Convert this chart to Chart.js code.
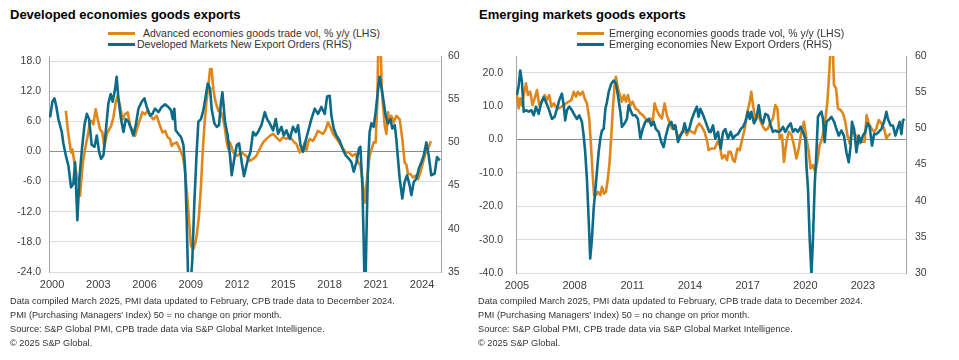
<!DOCTYPE html>
<html>
<head>
<meta charset="utf-8">
<script src="https://cdn.jsdelivr.net/npm/chart.js@4.4.1/dist/chart.umd.min.js"></script>
<style>
  html, body { margin: 0; padding: 0; background: #fff; }
  body { width: 959px; height: 360px; position: relative; overflow: hidden;
         font-family: "Liberation Sans", Arial, sans-serif; color: #333; }
  .title { position: absolute; font-weight: bold; font-size: 13px; color: #000; line-height: 16px; white-space: nowrap; }
  .leg { position: absolute; font-size: 10.5px; color: #333; white-space: nowrap; }
  .leg .row { position: absolute; left: 0; height: 11px; line-height: 11px; display: flex; align-items: center; }
  .leg .sw { display: inline-block; width: 27px; height: 3px; }
  .note { position: absolute; font-size: 9.2px; line-height: 14px; color: #333; white-space: nowrap; }
  .cw { position: absolute; }
</style>
</head>
<body>
<div class="title" style="left:10px; top:7px;">Developed economies goods exports</div>
<div class="leg" style="left:108px; top:28px;">
  <div class="row" style="top:0;"><span class="sw" style="background:#E0861B;margin-right:8px;"></span>Advanced economies goods trade vol, % y/y (LHS)</div>
  <div class="row" style="top:11px;"><span class="sw" style="background:#0B6B88;margin-right:2px;"></span>Developed Markets New Export Orders (RHS)</div>
</div>
<div class="cw" style="left:0; top:50px; width:480px; height:245px;"><canvas id="c1" width="480" height="245"></canvas></div>
<div class="note" style="left:10px; top:294px;">Data compiled March 2025, PMI data updated to February, CPB trade data to December 2024.<br>PMI (Purchasing Managers' Index) 50 = no change on prior month.<br>Source: S&amp;P Global PMI, CPB trade data via S&amp;P Global Market Intelligence.<br>© 2025 S&amp;P Global.</div>

<div class="title" style="left:479px; top:7px;">Emerging markets goods exports</div>
<div class="leg" style="left:577px; top:28px;">
  <div class="row" style="top:0;"><span class="sw" style="background:#E0861B;margin-right:5px;"></span>Emerging economies goods trade vol, % y/y (LHS)</div>
  <div class="row" style="top:11px;"><span class="sw" style="background:#0B6B88;margin-right:5px;"></span>Emerging economies New Export Orders (RHS)</div>
</div>
<div class="cw" style="left:470px; top:50px; width:489px; height:245px;"><canvas id="c2" width="489" height="245"></canvas></div>
<div class="note" style="left:478px; top:294px;">Data compiled March 2025, PMI data updated to February, CPB trade data to December 2024.<br>PMI (Purchasing Managers' Index) 50 = no change on prior month.<br>Source: S&amp;P Global PMI, CPB trade data via S&amp;P Global Market Intelligence.<br>© 2025 S&amp;P Global.</div>

<script>
// ---------- DATA (decimal years) ----------
const dmYearTicks = [2000, 2003, 2006, 2009, 2012, 2015, 2018, 2021, 2024];
const emYearTicks = [2005, 2008, 2011, 2014, 2017, 2020, 2023];
const dmLhsTicks = [-24, -18, -12, -6, 0, 6, 12, 18];
const emLhsTicks = [-40, -30, -20, -10, 0, 10, 20];

// Developed: Advanced economies goods trade vol, % y/y (LHS)
const dmTradeDates = [2000.89,2001.02,2001.10,2001.23,2001.32,2001.45,2001.60,2001.71,2001.82,2001.92,2002.03,2002.18,2002.31,2002.46,2002.57,2002.68,2002.83,2002.96,2003.11,2003.26,2003.39,2003.55,2003.70,2003.83,2003.98,2004.13,2004.26,2004.41,2004.56,2004.73,2004.91,2005.06,2005.21,2005.38,2005.56,2005.71,2005.86,2006.03,2006.20,2006.38,2006.57,2006.79,2007.00,2007.16,2007.33,2007.50,2007.65,2007.76,2007.87,2008.08,2008.24,2008.37,2008.47,2008.58,2008.67,2008.80,2008.91,2009.01,2009.16,2009.27,2009.38,2009.53,2009.66,2009.77,2009.88,2010.01,2010.14,2010.25,2010.35,2010.46,2010.57,2010.68,2010.79,2010.96,2011.11,2011.22,2011.33,2011.44,2011.54,2011.76,2011.98,2012.30,2012.60,2012.82,2013.04,2013.25,2013.47,2013.69,2013.90,2014.12,2014.34,2014.55,2014.77,2014.98,2015.20,2015.42,2015.63,2015.85,2016.07,2016.24,2016.39,2016.50,2016.60,2016.71,2016.93,2017.10,2017.25,2017.40,2017.58,2017.75,2017.90,2018.05,2018.23,2018.40,2018.62,2018.83,2019.05,2019.26,2019.48,2019.70,2019.85,2020.00,2020.13,2020.28,2020.39,2020.50,2020.60,2020.73,2020.86,2020.99,2021.10,2021.17,2021.30,2021.38,2021.47,2021.58,2021.69,2021.79,2021.90,2022.01,2022.16,2022.33,2022.55,2022.72,2022.87,2022.98,2023.09,2023.24,2023.42,2023.59,2023.74,2023.89,2024.06,2024.24,2024.39,2024.54,2024.60];
const dmTradeVals = [8.1,4.4,2.5,-0.2,0.4,-2.2,-4.8,-5.8,-8.8,-4.8,-1.5,1.1,3.1,5.8,6.1,5.4,8.4,6.4,4.4,3.8,0.8,3.5,4.4,5.1,6.8,9.8,11.1,9.1,6.4,7.4,7.8,5.1,4.4,3.1,5.1,6.4,7.8,7.4,8.1,7.1,6.4,7.1,5.1,3.8,4.1,2.8,2.5,1.1,1.5,1.8,0.8,-0.2,-0.9,-2.8,-5.5,-10.2,-14.8,-18.8,-19.5,-18.5,-16.8,-12.8,-6.8,-0.2,5.1,9.8,13.1,16.4,16.4,12.4,10.4,9.1,8.1,7.8,6.4,4.4,1.8,0.5,1.8,-0.2,-0.9,-0.2,-0.9,-1.9,-1.5,-0.9,0.5,1.8,2.5,3.1,3.5,2.8,2.1,2.8,2.5,3.1,2.1,1.5,-0.2,0.5,1.8,0.1,1.8,2.5,2.1,3.1,4.1,3.8,3.5,4.4,5.8,4.8,3.5,2.8,1.8,0.8,-0.2,-0.2,-0.9,-0.5,-2.2,-2.8,-5.5,-10.2,-6.8,-3.5,-0.9,0.5,1.8,1.8,9.8,23,23,13.1,9.1,5.1,3.5,7.8,5.8,7.1,5.8,7.1,6.4,2.5,-2.2,-2.6,-4.5,-4.5,-5.2,-4.8,-5.5,-4.2,-2.2,-0.2,0.5,1.8,2.0];

// Developed: Developed Markets New Export Orders PMI (RHS)
const dmPmiDates = [1999.87,2000.02,2000.15,2000.26,2000.41,2000.63,2000.73,2000.89,2001.06,2001.23,2001.38,2001.49,2001.64,2001.77,2001.92,2002.10,2002.25,2002.40,2002.57,2002.75,2002.90,2003.05,2003.18,2003.33,2003.50,2003.65,2003.80,2003.93,2004.09,2004.19,2004.30,2004.47,2004.63,2004.78,2004.95,2005.12,2005.27,2005.43,2005.60,2005.81,2005.99,2006.14,2006.36,2006.51,2006.68,2006.90,2007.11,2007.33,2007.54,2007.72,2007.83,2007.93,2008.02,2008.19,2008.37,2008.52,2008.63,2008.73,2008.84,2008.97,2009.10,2009.23,2009.38,2009.49,2009.66,2009.81,2009.97,2010.10,2010.25,2010.35,2010.53,2010.68,2010.83,2010.96,2011.05,2011.22,2011.39,2011.54,2011.65,2011.82,2011.98,2012.13,2012.30,2012.45,2012.71,2012.87,2013.04,2013.21,2013.36,2013.58,2013.80,2013.95,2014.12,2014.34,2014.51,2014.66,2014.88,2015.03,2015.20,2015.42,2015.63,2015.81,2015.96,2016.11,2016.28,2016.45,2016.60,2016.82,2017.04,2017.25,2017.47,2017.69,2017.84,2018.01,2018.12,2018.27,2018.44,2018.66,2018.83,2019.05,2019.26,2019.42,2019.57,2019.74,2019.91,2020.00,2020.13,2020.21,2020.30,2020.39,2020.50,2020.60,2020.71,2020.86,2020.99,2021.14,2021.25,2021.38,2021.51,2021.64,2021.79,2021.95,2022.07,2022.23,2022.33,2022.44,2022.55,2022.72,2022.87,2023.03,2023.20,2023.31,2023.46,2023.63,2023.80,2023.96,2024.11,2024.28,2024.43,2024.60,2024.82,2024.97,2025.15];
const dmPmiVals = [52.9,54.7,55.1,54.3,52.7,51.2,49.9,48.5,47.3,44.8,45.2,47.7,41.0,45.8,48.9,52.0,53.3,52.7,49.7,49.5,50.8,48.9,48.1,48.5,51.6,54.5,55.6,54.7,56.2,57.6,55.1,52.7,51.2,52.7,52.4,51.6,50.8,52.0,53.9,54.7,55.1,54.1,53.1,53.3,53.9,53.5,54.1,54.4,54.1,53.7,52.7,53.9,51.4,51.0,50.6,49.7,47.0,41.2,33.0,33.0,36.5,43.1,48.9,52.4,52.7,53.7,55.4,56.8,56.2,53.9,52.2,51.8,52.0,54.7,55.8,52.4,50.8,48.5,46.2,48.1,49.7,49.9,47.7,46.1,48.1,48.9,51.2,50.8,51.2,52.0,53.5,52.7,52.2,51.4,52.7,51.0,51.8,50.8,51.4,50.4,51.8,51.2,52.0,49.7,48.9,50.2,51.2,52.7,53.9,53.3,54.1,53.3,55.3,55.4,53.1,51.6,50.8,50.2,49.3,48.5,48.1,47.7,46.6,47.7,49.3,49.5,45.0,38.9,31.0,38.9,47.7,51.2,52.2,51.8,53.5,56.0,57.6,56.2,54.7,53.1,52.2,52.7,51.6,52.0,50.4,48.1,45.8,43.5,45.4,46.2,45.0,43.9,45.4,45.8,47.0,47.7,48.5,50.0,48.5,46.2,46.4,48.3,47.9];

// Emerging: Emerging economies goods trade vol, % y/y (LHS)
const emTradeDates = [2005.00,2005.09,2005.17,2005.26,2005.35,2005.47,2005.57,2005.69,2005.81,2005.92,2006.04,2006.16,2006.30,2006.44,2006.56,2006.68,2006.79,2006.91,2007.03,2007.17,2007.31,2007.43,2007.55,2007.69,2007.83,2007.95,2008.07,2008.17,2008.29,2008.42,2008.52,2008.64,2008.76,2008.85,2008.94,2009.01,2009.11,2009.21,2009.34,2009.42,2009.53,2009.63,2009.73,2009.82,2009.91,2009.99,2010.08,2010.15,2010.25,2010.36,2010.46,2010.57,2010.67,2010.77,2010.90,2011.02,2011.16,2011.29,2011.42,2011.54,2011.68,2011.81,2011.94,2012.06,2012.16,2012.28,2012.40,2012.54,2012.68,2012.80,2012.92,2013.06,2013.20,2013.32,2013.44,2013.58,2013.72,2013.84,2013.96,2014.10,2014.24,2014.36,2014.49,2014.62,2014.76,2014.88,2014.97,2015.11,2015.29,2015.43,2015.55,2015.67,2015.81,2015.93,2016.01,2016.12,2016.24,2016.33,2016.47,2016.59,2016.71,2016.85,2016.99,2017.11,2017.19,2017.28,2017.40,2017.54,2017.68,2017.80,2017.92,2018.06,2018.20,2018.32,2018.44,2018.55,2018.67,2018.79,2018.89,2019.02,2019.14,2019.28,2019.41,2019.54,2019.66,2019.80,2019.93,2020.06,2020.18,2020.28,2020.40,2020.52,2020.63,2020.75,2020.87,2021.01,2021.15,2021.25,2021.32,2021.43,2021.49,2021.60,2021.70,2021.84,2021.96,2022.08,2022.19,2022.31,2022.43,2022.57,2022.71,2022.83,2022.95,2023.09,2023.19,2023.30,2023.44,2023.58,2023.70,2023.82,2023.96,2024.10,2024.22,2024.34,2024.44];
const emTradeVals = [13.3,9.3,12.3,10.3,13.3,16.8,13.3,14.3,10.3,12.3,14.8,10.3,11.3,13.3,11.8,13.3,9.8,10.8,9.8,9.3,9.8,10.3,10.8,11.3,11.8,14.3,12.8,14.3,13.3,14.3,12.3,10.8,6.3,-1.7,-10.7,-16.7,-16.7,-15.7,-16.7,-14.2,-16.2,-15.7,-11.7,-6.7,1.3,9.3,16.3,18.8,15.3,13.3,11.3,13.3,11.3,13.3,10.3,11.3,9.3,8.8,7.8,7.3,6.3,5.3,6.3,5.3,10.8,8.8,7.3,6.3,10.8,7.3,5.3,3.3,4.3,1.8,0.3,2.3,2.8,1.3,2.8,2.3,1.8,3.8,4.8,3.8,2.3,-0.2,-3.2,-2.7,-2.7,-0.7,-1.7,-5.7,-4.7,-6.2,-3.7,-3.7,-6.2,-6.7,-2.7,-3.2,-0.2,3.3,8.3,11.3,14.3,10.3,6.3,7.8,5.3,3.8,2.8,3.3,5.3,6.3,10.3,9.3,0.3,1.3,-6.7,-0.7,2.3,1.3,-1.7,-5.7,-2.7,2.3,5.3,0.3,-3.7,-8.7,-7.7,-9.7,-6.7,-1.7,0.3,4.3,11.3,20.3,28,28,16.3,15.3,9.3,8.8,7.8,5.3,1.3,-1.2,2.3,1.8,0.3,-1.2,-0.7,-0.7,7.3,4.8,3.3,2.3,3.3,5.8,4.8,3.3,0.3,1.3,1.8];

// Emerging: Emerging economies New Export Orders PMI (RHS)
const emPmiDates = [2005.00,2005.09,2005.17,2005.26,2005.35,2005.47,2005.61,2005.75,2005.87,2005.99,2006.13,2006.27,2006.39,2006.51,2006.65,2006.82,2006.96,2007.08,2007.20,2007.34,2007.43,2007.51,2007.60,2007.72,2007.86,2008.00,2008.12,2008.24,2008.38,2008.47,2008.55,2008.64,2008.73,2008.81,2008.90,2008.99,2009.07,2009.16,2009.25,2009.34,2009.42,2009.51,2009.60,2009.68,2009.77,2009.91,2010.03,2010.15,2010.25,2010.38,2010.46,2010.60,2010.72,2010.81,2010.91,2011.02,2011.16,2011.29,2011.42,2011.54,2011.68,2011.85,2011.99,2012.11,2012.23,2012.37,2012.51,2012.63,2012.75,2012.89,2013.03,2013.15,2013.24,2013.38,2013.50,2013.62,2013.72,2013.84,2013.96,2014.10,2014.24,2014.36,2014.45,2014.54,2014.66,2014.76,2014.88,2015.01,2015.08,2015.20,2015.32,2015.46,2015.60,2015.72,2015.84,2015.98,2016.12,2016.24,2016.36,2016.50,2016.64,2016.76,2016.88,2017.02,2017.11,2017.19,2017.33,2017.45,2017.58,2017.68,2017.80,2017.92,2018.06,2018.20,2018.32,2018.44,2018.58,2018.72,2018.84,2018.96,2019.10,2019.24,2019.36,2019.48,2019.62,2019.76,2019.88,2020.00,2020.07,2020.14,2020.23,2020.32,2020.40,2020.49,2020.58,2020.66,2020.75,2020.84,2020.92,2021.01,2021.10,2021.18,2021.27,2021.36,2021.50,2021.62,2021.74,2021.88,2022.01,2022.14,2022.26,2022.36,2022.43,2022.54,2022.66,2022.78,2022.88,2023.00,2023.12,2023.23,2023.35,2023.47,2023.58,2023.70,2023.82,2023.96,2024.10,2024.22,2024.30,2024.44,2024.56,2024.69,2024.79,2024.91,2025.00,2025.08,2025.17];
const emPmiVals = [54.6,55.9,58.0,56.4,52.3,52.5,52.3,52.5,51.8,53.0,52.0,53.6,54.3,53.6,52.7,51.3,51.6,52.7,53.9,54.8,53.2,51.1,52.5,53.0,52.5,51.8,51.3,51.8,50.9,49.0,46.7,43.0,37.5,32.0,34.7,38.9,41.2,44.0,46.7,48.6,49.7,49.9,52.7,53.6,55.0,56.2,56.6,56.2,54.6,52.3,50.2,50.7,51.3,53.2,52.5,51.8,51.8,51.3,48.6,49.9,50.9,51.3,50.4,50.9,49.9,49.5,48.1,47.4,49.0,50.4,50.9,49.9,50.4,48.1,49.0,49.5,50.7,49.5,49.9,51.3,52.3,53.0,51.6,52.7,52.0,51.3,50.4,49.5,49.5,50.4,48.6,49.5,47.2,49.5,49.9,48.6,49.5,48.6,49.0,49.2,49.9,50.2,50.9,52.3,51.3,52.3,50.7,51.3,53.2,51.3,50.7,52.0,51.8,50.4,49.5,49.7,49.5,49.7,50.2,49.5,50.2,50.7,49.5,49.9,49.5,50.2,49.5,48.6,44.4,41.7,34.7,29.8,34.7,42.2,46.7,51.6,52.0,52.3,51.3,48.1,50.9,51.1,51.3,51.6,50.9,49.9,49.0,49.7,49.0,46.7,45.3,47.6,50.9,49.9,46.7,49.0,48.1,49.0,49.5,50.7,50.2,47.6,49.2,49.2,49.5,49.9,50.9,52.3,51.3,50.4,50.4,49.0,49.9,50.9,49.2,51.1,51.3];

// ---------- CHARTS ----------
const ORANGE = '#E0861B';
const BLUE = '#0B6B88';
const TICK_COLOR = '#404040';
Chart.defaults.font.family = '"Liberation Sans", Arial, sans-serif';
Chart.defaults.color = TICK_COLOR;

function pts(dates, vals) { return dates.map((d, i) => ({ x: d, y: vals[i] })); }

function build(canvasId, c) {
  return new Chart(document.getElementById(canvasId), {
    type: 'line',
    data: {
      datasets: [
        { label: c.pmiLabel, data: pts(c.pmiDates, c.pmiVals), yAxisID: 'y1',
          borderColor: BLUE, backgroundColor: BLUE, borderWidth: 2.6, pointRadius: 0,
          tension: 0, borderJoinStyle: 'round', clip: 0, order: 0 },
        { label: c.tradeLabel, data: pts(c.tradeDates, c.tradeVals), yAxisID: 'y',
          borderColor: ORANGE, backgroundColor: ORANGE, borderWidth: 2.6, pointRadius: 0,
          tension: 0, borderJoinStyle: 'round', clip: 0, order: 1 }
      ]
    },
    options: {
      responsive: false, animation: false, devicePixelRatio: 1,
      layout: { padding: { top: c.padTop, left: 0, right: 0, bottom: 0 } },
      plugins: { legend: { display: false }, tooltip: { enabled: false }, title: { display: false } },
      scales: {
        x: {
          type: 'linear', min: c.xMin, max: c.xMax,
          afterBuildTicks: s => { s.ticks = c.xTicks.map(v => ({ value: v })); },
          grid: { display: false, drawTicks: false }, border: { display: false },
          ticks: { padding: c.xPad, autoSkip: false, maxRotation: 0, font: { size: 11 },
                   color: TICK_COLOR, callback: v => String(v) },
          afterFit: s => { s.height = c.xHeight; s.paddingLeft = 0; s.paddingRight = 0; }
        },
        y: {
          position: 'left', min: c.lhsMin, max: c.lhsMax,
          afterBuildTicks: s => { s.ticks = c.lhsTicks.map(v => ({ value: v })); },
          grid: { drawTicks: false, lineWidth: 1,
                  color: ctx => (ctx.tick && ctx.tick.value === 0) ? '#8c8c8c' : '#dcdcdc' },
          border: { display: true, color: '#a6a6a6' },
          ticks: { padding: c.lhsPad, font: { size: 10.5 }, color: TICK_COLOR,
                   callback: v => Number(v).toFixed(1) },
          afterFit: s => { s.width = c.lhsWidth; s.paddingTop = 0; s.paddingBottom = 0; }
        },
        y1: {
          position: 'right', min: c.rhsMin, max: c.rhsMax,
          grid: { drawOnChartArea: false, drawTicks: false },
          border: { display: true, color: '#a6a6a6' },
          ticks: { stepSize: 5, padding: c.rhsPad, font: { size: 10.5 }, color: TICK_COLOR },
          afterFit: s => { s.width = c.rhsWidth; s.paddingTop = 0; s.paddingBottom = 0; }
        }
      }
    }
  });
}

build('c1', {
  pmiLabel: 'Developed Markets New Export Orders (RHS)', pmiDates: dmPmiDates, pmiVals: dmPmiVals,
  tradeLabel: 'Advanced economies goods trade vol, % y/y (LHS)', tradeDates: dmTradeDates, tradeVals: dmTradeVals,
  xMin: 1999.8, xMax: 2025.23, xTicks: dmYearTicks, xPad: 6, xHeight: 23, padTop: 6,
  lhsMin: -24, lhsMax: 19, lhsTicks: dmLhsTicks, lhsPad: 8, lhsWidth: 49,
  rhsMin: 35, rhsMax: 60, rhsPad: 7, rhsWidth: 39
});

build('c2', {
  pmiLabel: 'Emerging economies New Export Orders (RHS)', pmiDates: emPmiDates, pmiVals: emPmiVals,
  tradeLabel: 'Emerging economies goods trade vol, % y/y (LHS)', tradeDates: emTradeDates, tradeVals: emTradeVals,
  xMin: 2004.95, xMax: 2025.24, xTicks: emYearTicks, xPad: 6, xHeight: 22, padTop: 6,
  lhsMin: -40, lhsMax: 25, lhsTicks: emLhsTicks, lhsPad: 13, lhsWidth: 46,
  rhsMin: 30, rhsMax: 60, rhsPad: 9, rhsWidth: 53
});
</script>
</body>
</html>
